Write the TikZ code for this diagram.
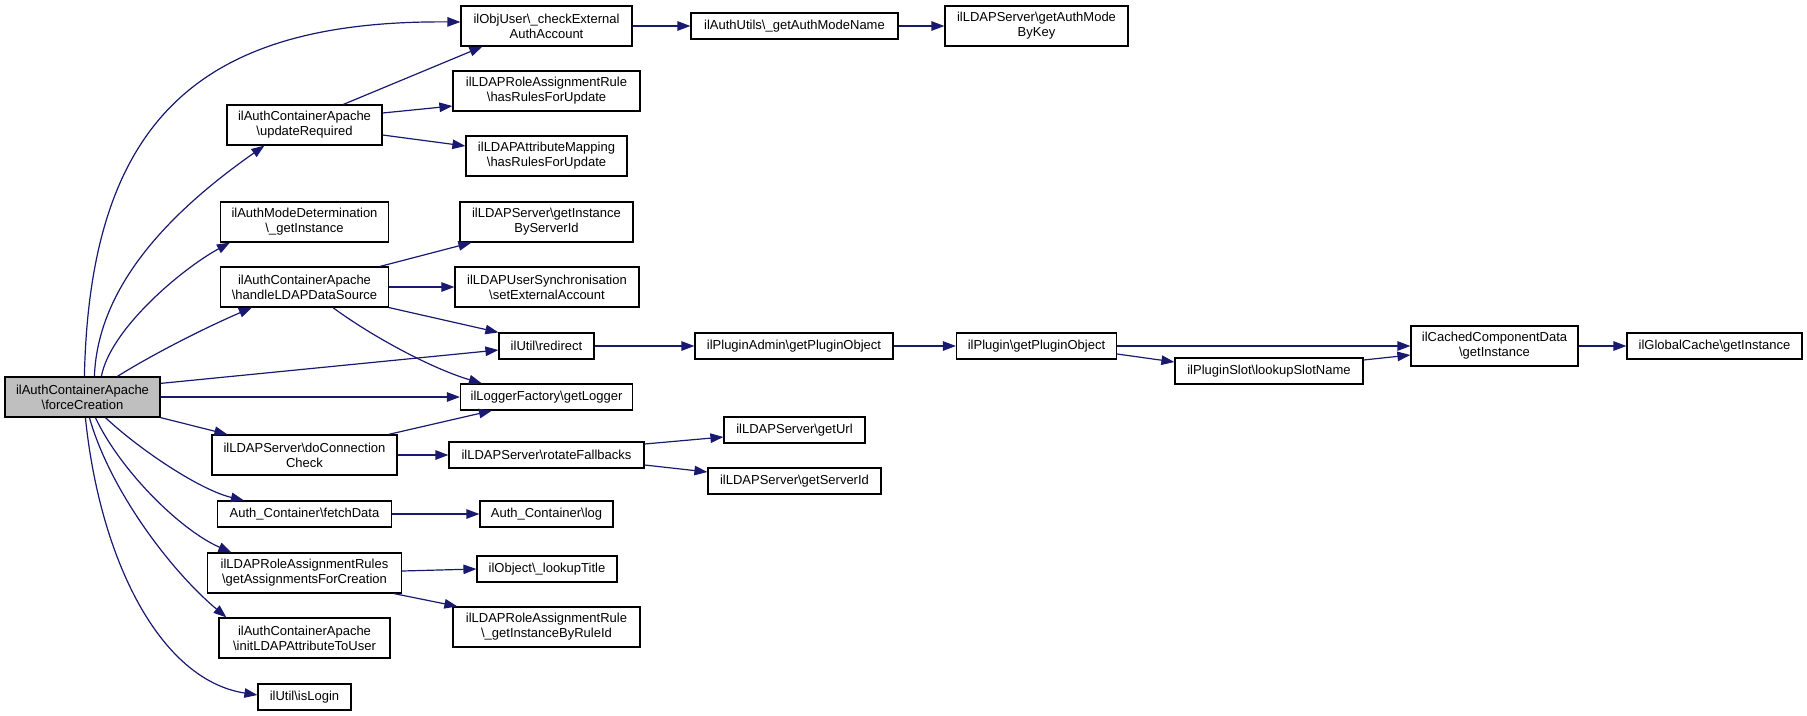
\documentclass[tikz,border=0pt]{standalone}
\usepackage{fontspec}
\setmainfont{Liberation Sans}
\usetikzlibrary{arrows.meta,calc}
\definecolor{edgeblue}{RGB}{25,25,112}
\definecolor{nodegray}{RGB}{191,191,191}
\tikzset{
  fn/.style={draw=black, line width=1.2pt, fill=white, inner sep=0pt, align=center,
    font=\fontsize{13}{15}\selectfont, text=black},
  fn1/.style={fn, minimum height=26pt},
  fn2/.style={fn, minimum height=40pt},
  edge/.style={draw=edgeblue, line width=1.2pt, -{Triangle[length=13pt,width=9.5pt]}},
}
\begin{document}
\begin{tikzpicture}[x=1pt,y=-1pt]
\useasboundingbox (0,0) rectangle (1807,715);
% nodes
\node[fn2, fill=nodegray, minimum width=155pt] (fc) at (82.5,397) {ilAuthContainerApache\\\textbackslash forceCreation};
\node[fn2, minimum width=171pt] (ou) at (546.5,26) {ilObjUser\textbackslash \_checkExternal\\AuthAccount};
\node[fn1, minimum width=207pt] (am) at (794.5,26) {ilAuthUtils\textbackslash \_getAuthModeName};
\node[fn2, minimum width=183pt] (ak) at (1036.5,26) {ilLDAPServer\textbackslash getAuthMode\\ByKey};
\node[fn2, minimum width=155pt] (ur) at (304.5,125) {ilAuthContainerApache\\\textbackslash updateRequired};
\node[fn2, minimum width=187pt] (rr) at (546.5,91) {ilLDAPRoleAssignmentRule\\\textbackslash hasRulesForUpdate};
\node[fn2, minimum width=161pt] (amap) at (546.5,156) {ilLDAPAttributeMapping\\\textbackslash hasRulesForUpdate};
\node[fn2, minimum width=168pt] (md) at (304.5,222) {ilAuthModeDetermination\\\textbackslash \_getInstance};
\node[fn2, minimum width=173pt] (gi) at (546.5,222) {ilLDAPServer\textbackslash getInstance\\ByServerId};
\node[fn2, minimum width=168pt] (hl) at (304.5,287) {ilAuthContainerApache\\\textbackslash handleLDAPDataSource};
\node[fn2, minimum width=184pt] (us) at (547,287) {ilLDAPUserSynchronisation\\\textbackslash setExternalAccount};
\node[fn1, minimum width=95pt] (rd) at (546.5,346) {ilUtil\textbackslash redirect};
\node[fn1, minimum width=198pt] (pa) at (794,346) {ilPluginAdmin\textbackslash getPluginObject};
\node[fn1, minimum width=160pt] (pl) at (1036.5,346) {ilPlugin\textbackslash getPluginObject};
\node[fn2, minimum width=167pt] (cc) at (1494.5,346) {ilCachedComponentData\\\textbackslash getInstance};
\node[fn1, minimum width=175pt] (gc) at (1714.5,346) {ilGlobalCache\textbackslash getInstance};
\node[fn1, minimum width=188pt] (ls) at (1269,371) {ilPluginSlot\textbackslash lookupSlotName};
\node[fn1, minimum width=172pt] (lf) at (546.5,397) {ilLoggerFactory\textbackslash getLogger};
\node[fn2, minimum width=185pt] (dc) at (304.5,455) {ilLDAPServer\textbackslash doConnection\\Check};
\node[fn1, minimum width=195pt] (rf) at (546.5,455) {ilLDAPServer\textbackslash rotateFallbacks};
\node[fn1, minimum width=141pt] (gu) at (794.5,430) {ilLDAPServer\textbackslash getUrl};
\node[fn1, minimum width=173pt] (gs) at (794.5,481) {ilLDAPServer\textbackslash getServerId};
\node[fn1, minimum width=174pt] (fd) at (304.5,514) {Auth\_Container\textbackslash fetchData};
\node[fn1, minimum width=133pt] (lg) at (546.5,514) {Auth\_Container\textbackslash log};
\node[fn2, minimum width=194pt] (ga) at (304.5,573) {ilLDAPRoleAssignmentRules\\\textbackslash getAssignmentsForCreation};
\node[fn1, minimum width=140pt] (lt) at (547,569) {ilObject\textbackslash \_lookupTitle};
\node[fn2, minimum width=187pt] (ri) at (546.5,627) {ilLDAPRoleAssignmentRule\\\textbackslash \_getInstanceByRuleId};
\node[fn2, minimum width=171pt] (il) at (304.5,638) {ilAuthContainerApache\\\textbackslash initLDAPAttributeToUser};
\node[fn1, minimum width=93pt] (is) at (304.5,697) {ilUtil\textbackslash isLogin};
% edges from forceCreation
\draw[edge] ($(fc.north west)+(80,0)$) .. controls (90,115) and (205,20) .. ($(ou.west)+(0,-4)$);
\draw[edge] ($(fc.north west)+(90,0)$) .. controls (98,280) and (180,205) .. ($(ur.south west)+(38,0)$);
\draw[edge] ($(fc.north west)+(97,0)$) .. controls (110,330) and (180,270) .. ($(md.south west)+(10,0)$);
\draw[edge] ($(fc.north west)+(113,0)$) .. controls (150,356) and (200,330) .. ($(hl.south west)+(32,0)$);
\draw[edge] ($(fc.north east)+(0,7)$) -- ($(rd.west)+(0,4)$);
\draw[edge] (fc.east) -- (lf.west);
\draw[edge] (fc.south east) -- ($(dc.north west)+(16,0)$);
\draw[edge] ($(fc.south west)+(101,0)$) .. controls (140,450) and (200,490) .. ($(fd.north west)+(27,0)$);
\draw[edge] ($(fc.south west)+(91,0)$) .. controls (120,470) and (180,530) .. ($(ga.north west)+(24.5,0)$);
\draw[edge] ($(fc.south west)+(85,0)$) .. controls (110,490) and (170,570) .. ($(il.north west)+(8,0)$);
\draw[edge] ($(fc.south west)+(81,0)$) .. controls (100,560) and (160,680) .. ($(is.west)+(0,-2)$);
% updateRequired
\draw[edge] ($(ur.north west)+(117,0)$) -- ($(ou.south west)+(22,0)$);
\draw[edge] ($(ur.east)+(0,-12)$) -- ($(rr.west)+(0,15)$);
\draw[edge] ($(ur.east)+(0,10)$) -- ($(amap.west)+(0,-10)$);
% top chain
\draw[edge] (ou.east) -- (am.west);
\draw[edge] (am.east) -- (ak.west);
% handleLDAPDataSource
\draw[edge] ($(hl.north east)+(-9,0)$) -- ($(gi.south west)+(12,0)$);
\draw[edge] (hl.east) -- (us.west);
\draw[edge] (hl.south east) -- (rd.north west);
\draw[edge] ($(hl.south west)+(113,0)$) .. controls (370,335) and (430,368) .. ($(lf.north west)+(22,0)$);
% redirect chain
\draw[edge] (rd.east) -- (pa.west);
\draw[edge] (pa.east) -- (pl.west);
\draw[edge] (pl.east) -- (cc.west);
\draw[edge] ($(pl.east)+(0,8)$) -- ($(ls.west)+(0,-9)$);
\draw[edge] ($(ls.east)+(0,-11)$) -- ($(cc.west)+(0,9)$);
\draw[edge] (cc.east) -- (gc.west);
% doConnectionCheck
\draw[edge] ($(dc.north east)+(-9,0)$) -- ($(lf.south west)+(32,0)$);
\draw[edge] (dc.east) -- (rf.west);
\draw[edge] ($(rf.east)+(0,-11)$) -- ($(gu.west)+(0,7)$);
\draw[edge] ($(rf.east)+(0,10)$) -- ($(gs.west)+(0,-9)$);
% fetchData
\draw[edge] (fd.east) -- (lg.west);
% getAssignmentsForCreation
\draw[edge] ($(ga.east)+(0,-2)$) -- (lt.west);
\draw[edge] ($(ga.south east)+(-8,0)$) -- ($(ri.north west)+(5,0)$);
\end{tikzpicture}
\end{document}
